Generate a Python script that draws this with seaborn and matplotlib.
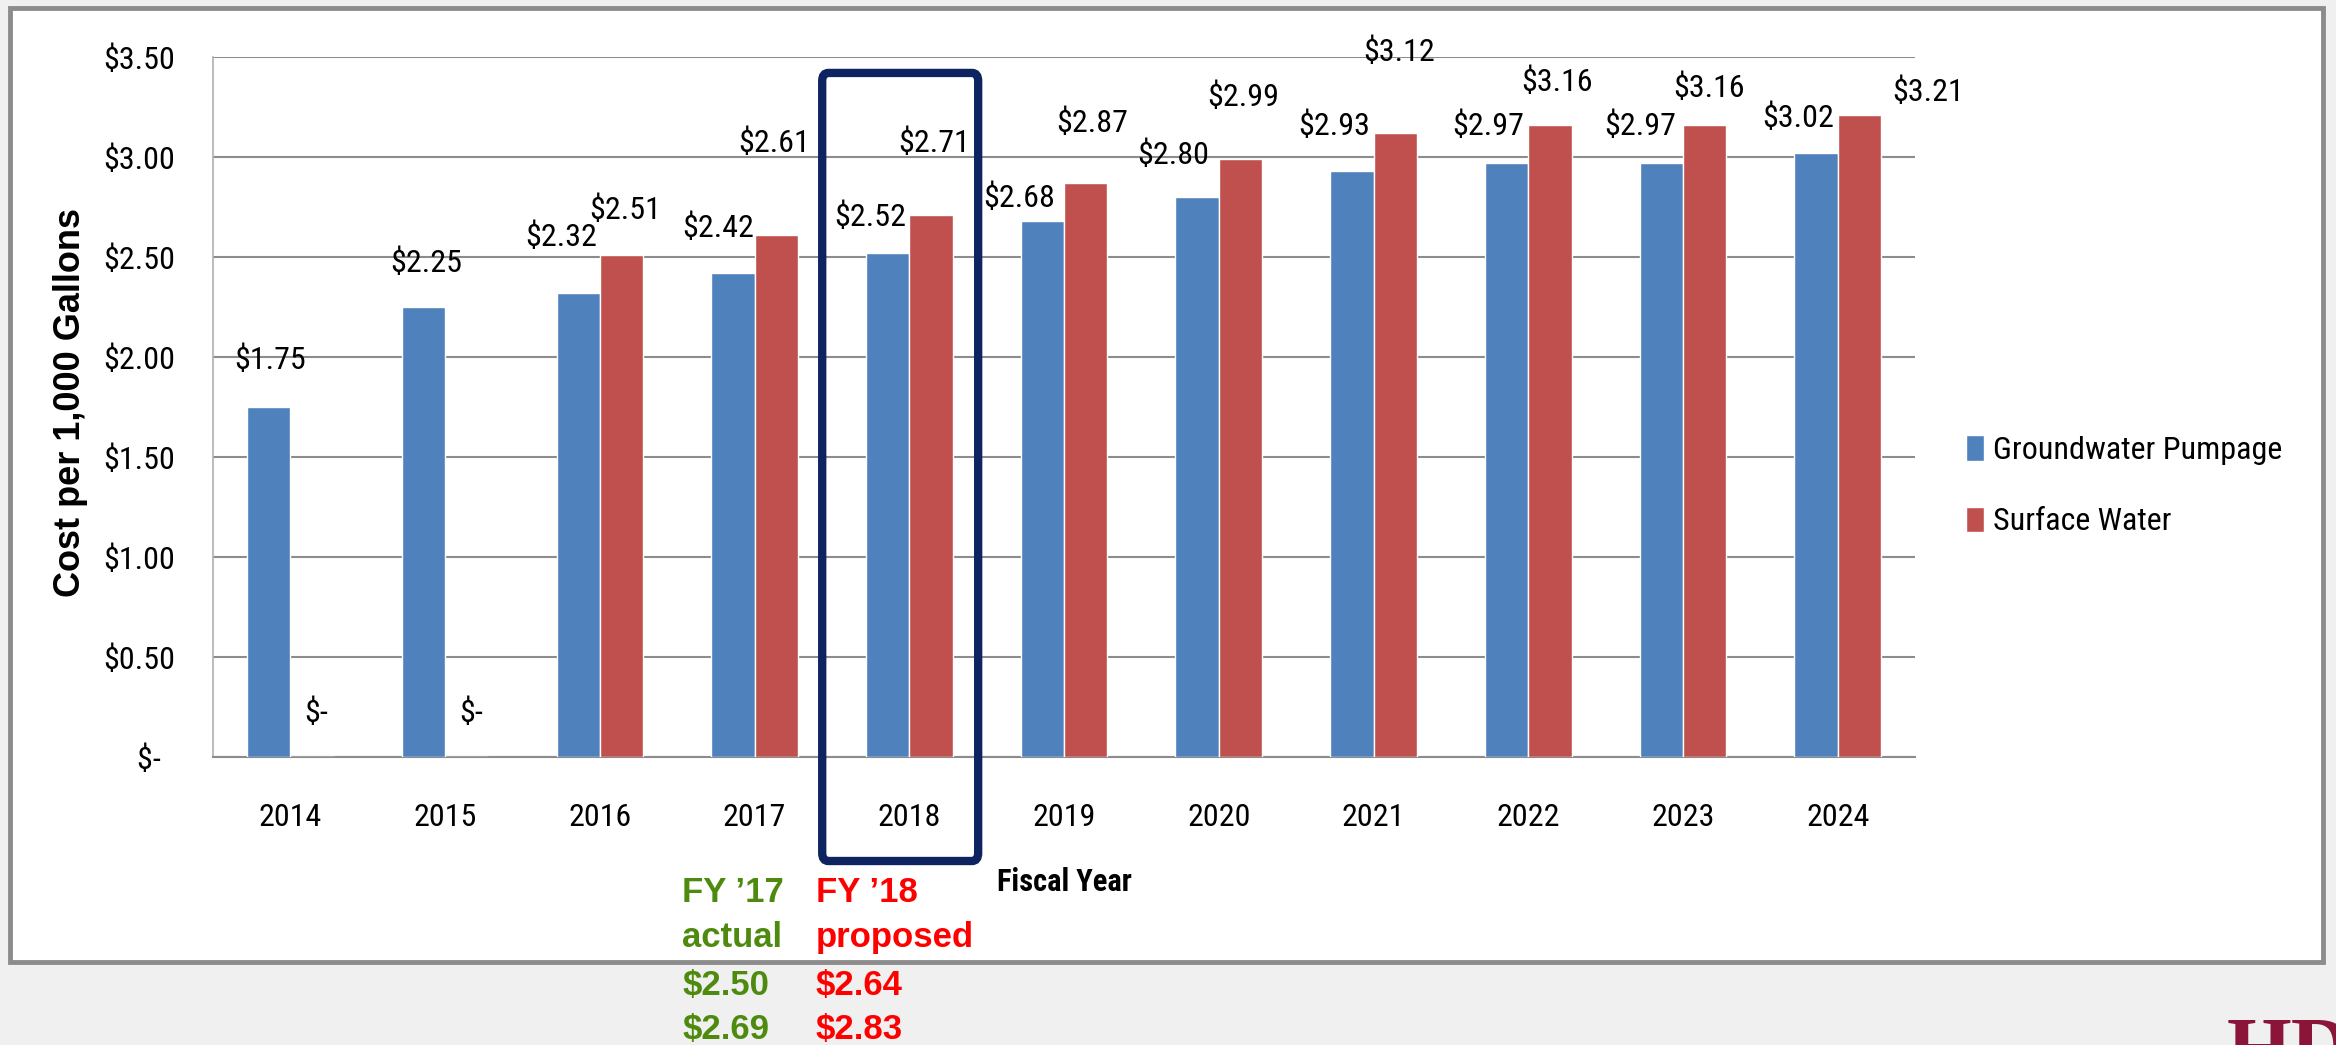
import numpy as np
import pandas as pd
import matplotlib.pyplot as plt
import seaborn as sns
from matplotlib import font_manager
from matplotlib.patches import Rectangle, FancyBboxPatch

years = ["2014", "2015", "2016", "2017", "2018", "2019", "2020", "2021", "2022", "2023", "2024"]
series = ["Groundwater Pumpage", "Surface Water"]
groundwater = [1.75, 2.25, 2.32, 2.42, 2.52, 2.68, 2.80, 2.93, 2.97, 2.97, 3.02]
surface = [0, 0, 2.51, 2.61, 2.71, 2.87, 2.99, 3.12, 3.16, 3.16, 3.21]
y_ticks = [0, 0.5, 1.0, 1.5, 2.0, 2.5, 3.0, 3.5]
highlight_year = "2018"
fy17_lines = ["FY \u201917", "actual", "$2.50", "$2.69"]
fy18_lines = ["FY \u201918", "proposed", "$2.64", "$2.83"]

# where the excel data labels ended up, offset from the bar top (pixels)
gw_label_dx = [1, 3, -17, -15, -17, -23, -24, -18, -18, -21, -18]
gw_label_dy = [47, 44, 56, 45, 36, 23, 42, 45, 37, 37, 35]
sw_label_dx = [4, 4, 4, -2, 3, 6, 3, 4, 7, 4, 69]
sw_label_dy = [44, 44, 45, 92, 72, 60, 62, 81, 43, 37, 23]

BLUE = "#4f81bd"
RED = "#c0504d"
GRID = "#8c8c8c"

df = pd.DataFrame({
    "year": years * 2,
    "series": [series[0]] * len(years) + [series[1]] * len(years),
    "value": groundwater + surface,
})

# the original uses a tall, narrow office font; take a narrow family if one is around
installed = {f.name for f in font_manager.fontManager.ttflist}
narrow = [n for n in ["Liberation Sans Narrow", "Roboto Condensed", "Open Sans Condensed",
                      "DejaVu Sans Condensed"] if n in installed]
if narrow:
    BODY = narrow[0]
    FS = 23
else:
    BODY = "Liberation Sans"
    FS = 22

sns.set_style("white")
plt.rcParams["font.family"] = [BODY, "DejaVu Sans"]
plt.rcParams["text.color"] = "black"

fig = plt.figure(figsize=(23.36, 10.45), dpi=100)
fig.patch.set_facecolor("#f0f0f0")
# white slide panel with grey frame, kept behind the axes
panel = Rectangle((0.0043, 0.0794), 0.9901, 0.913, transform=fig.transFigure,
                  facecolor="white", edgecolor="#8c8c8c", linewidth=3.5, zorder=-5)
fig.patches.append(panel)

ax = fig.add_axes([0.0912, 0.2756, 0.7286, 0.6699])
ax.set_zorder(2)
ax.set_facecolor("white")

sns.barplot(data=df, x="year", y="value", hue="series", palette=[BLUE, RED],
            width=0.56, saturation=1, ax=ax, zorder=3)

ax.set_ylim(0, 3.5)
ax.set_xlim(-0.5, len(years) - 0.5)
ax.set_yticks(y_ticks)
# accounting format: the zero label carries trailing padding
ax.set_yticklabels(["$-  " if v == 0 else f"${v:.2f}" for v in y_ticks])
ax.yaxis.grid(True, color=GRID, linewidth=1.5, zorder=0)
ax.set_axisbelow(True)

for side in ["top", "right"]:
    ax.spines[side].set_visible(False)
ax.spines["left"].set_color("#b0b0b0")
ax.spines["left"].set_linewidth(1.2)
ax.spines["bottom"].set_color(GRID)
ax.spines["bottom"].set_linewidth(1.5)

ax.tick_params(axis="y", length=7, width=1.2, color=GRID, pad=20, labelsize=FS,
               labelcolor="black")
ax.tick_params(axis="x", which="major", length=0, pad=33, labelsize=FS,
               labelcolor="black")
ax.set_xticks(np.arange(-0.5, len(years)), minor=True)
ax.tick_params(axis="x", which="minor", length=11, width=1.2, color="#b0b0b0")

ax.set_xlabel("Fiscal Year", fontsize=22, fontweight="bold", va="center", color="black")
ax.xaxis.set_label_coords(0.5, -0.179)
ax.set_ylabel("Cost per 1,000 Gallons", fontsize=26, fontweight="bold",
              family="Liberation Sans", va="center", ha="center", color="black")
ax.yaxis.set_label_coords(-0.084, 0.507)

leg = ax.get_legend()
handles = leg.legend_handles
labels = [t.get_text() for t in leg.get_texts()]
ax.legend(handles, labels, loc="center left", bbox_to_anchor=(0.8416, 0.535),
          bbox_transform=fig.transFigure, frameon=False, fontsize=FS,
          handlelength=0.55, handleheight=0.85, handletextpad=0.3,
          labelspacing=1.3, borderpad=0, borderaxespad=0)

# data labels
offsets = [(gw_label_dx, gw_label_dy), (sw_label_dx, sw_label_dy)]
for cont, (dxs, dys) in zip(ax.containers, offsets):
    for bar, dx, dy in zip(cont, dxs, dys):
        v = bar.get_height()
        txt = "$-" if v == 0 else f"${v:.2f}"
        ax.annotate(txt, (bar.get_x() + bar.get_width() / 2, v),
                    xytext=(dx, dy), textcoords="offset pixels",
                    ha="center", va="center", fontsize=FS, zorder=5,
                    annotation_clip=False)

# navy box around the proposed year
hx = years.index(highlight_year)
box = FancyBboxPatch((hx - 0.563, -0.52), 1.008, 3.94,
                     boxstyle="round,pad=0,rounding_size=0.04",
                     fill=False, edgecolor="#0d2461", linewidth=6,
                     transform=ax.transData, clip_on=False, zorder=6)
ax.add_patch(box)

# FY notes under the chart
line_y = [0.1455, 0.1024, 0.0574, 0.0144]
for yy, a, b in zip(line_y, fy17_lines, fy18_lines):
    fig.text(0.292, yy, a, color="#4e8a0e", fontsize=25, fontweight="bold",
             family="Liberation Sans", va="center", ha="left")
    fig.text(0.3493, yy, b, color="#ff0000", fontsize=25, fontweight="bold",
             family="Liberation Sans", va="center", ha="left")

# corner of the logo peeking in
fig.text(0.953, -0.045, "HD", color="#8b1538", fontsize=60, fontweight="bold",
         family="Liberation Serif", va="bottom", ha="left")

fig.savefig("out.png", dpi=100, facecolor=fig.get_facecolor())
